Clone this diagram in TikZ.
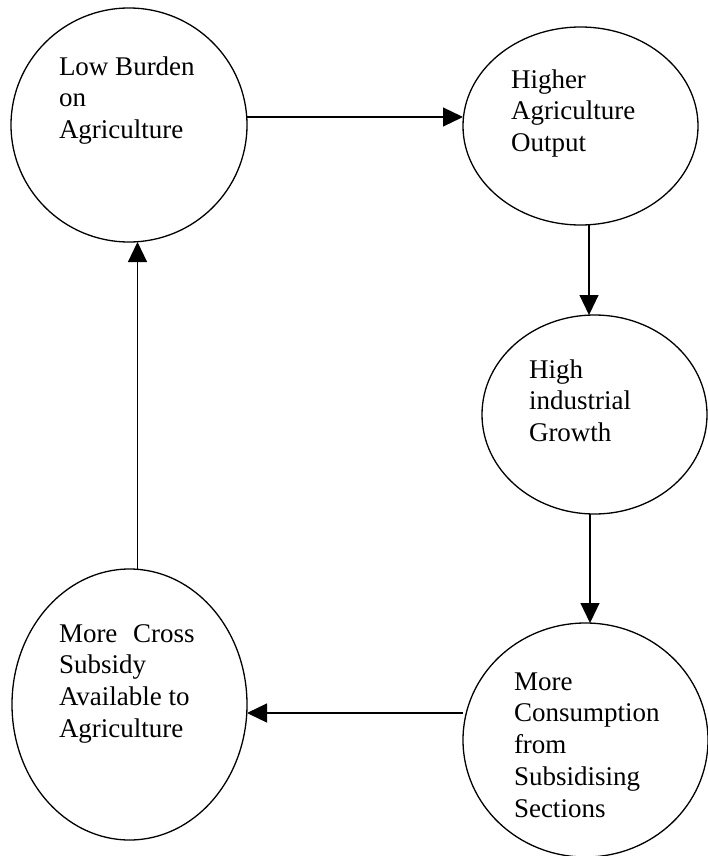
\documentclass[tikz,border=0pt]{standalone}
\usepackage{fontspec}
\setmainfont{Liberation Serif}
\usetikzlibrary{shapes.geometric,arrows.meta}
\begin{document}
\begin{tikzpicture}[x=1pt,y=-1pt,
  bubble/.style={draw,ellipse,line width=1.3pt,inner sep=0pt,outer sep=0pt},
  label/.style={anchor=north west,inner sep=0pt,outer sep=0pt,align=left,
    font=\fontsize{27}{31.8}\selectfont},
  arr/.style={line width=1.2pt,-{Triangle[length=20pt,width=19pt]}}]
\useasboundingbox (0,0) rectangle (708,856);
% bubbles
\node[bubble,minimum width=236pt,minimum height=234pt] (c1) at (129,125) {};
\node[bubble,minimum width=235pt,minimum height=198pt] (c2) at (580.5,126) {};
\node[bubble,minimum width=225pt,minimum height=199pt] (c3) at (594.5,414.5) {};
\node[bubble,minimum width=245pt,minimum height=234pt] (c4) at (585.5,740) {};
\node[bubble,minimum width=235pt,minimum height=271pt] (c5) at (129.5,704.5) {};
% texts
\node[label] (t1) at (59,55) {\rule{0pt}{20pt}Low Burden\\on\\Agriculture};
\node[label] (t2) at (511,68) {\rule{0pt}{20pt}Higher\\Agriculture\\Output};
\node[label] (t3) at (529,358) {\rule{0pt}{20pt}High\\industrial\\Growth};
\node[label] (t4) at (514,670) {\rule{0pt}{20pt}More\\Consumption\\from\\Subsidising\\Sections};
\node[label] (t5) at (59,622) {\rule{0pt}{20pt}More\hspace{9pt} Cross\\Subsidy\\Available to\\Agriculture};
% connectors
\draw[arr] ([yshift=8pt]c1.east) -- ([yshift=8pt]c1.east -| c2.west);
\draw[arr] ([xshift=8.5pt]c2.south) -- ([xshift=8.5pt]c2.south |- c3.north);
\draw[arr] ([xshift=-4.5pt]c3.south) -- ([xshift=-4.5pt]c3.south |- c4.north);
\draw[arr] ([yshift=27pt]c4.west) -- ([yshift=27pt]c4.west -| c5.east);
\draw[arr] ([xshift=8pt]c5.north) -- ([xshift=8pt]c5.north |- c1.south);
\end{tikzpicture}
\end{document}
